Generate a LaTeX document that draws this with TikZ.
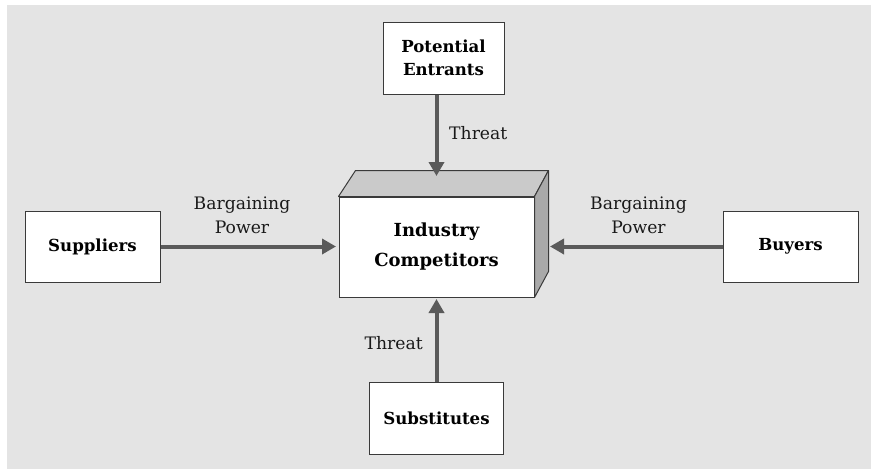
\documentclass[tikz,border=0pt]{standalone}
\usepackage{fontspec}
\setmainfont{DejaVu Serif}
\usetikzlibrary{arrows.meta,calc}
\definecolor{bggray}{HTML}{E4E4E4}
\definecolor{arrgray}{HTML}{5A5A5A}
\definecolor{topgray}{HTML}{CACACA}
\definecolor{sidegray}{HTML}{A9A9A9}
\definecolor{edgegray}{HTML}{3A3A3A}
\tikzset{
  forcebox/.style={draw=edgegray, line width=1pt, fill=white, inner sep=0pt,
    font=\fontsize{16.6}{23}\selectfont\bfseries, align=center},
  forcearrow/.style={draw=arrgray, line width=4pt, -{Triangle[length=14pt,width=15pt]}},
  lbl/.style={font=\fontsize{17.2}{24}\selectfont, align=center, inner sep=0pt, text=black!90},
  face/.style={draw=edgegray, line width=1pt, line join=round}
}
\begin{document}
\begin{tikzpicture}[x=1pt,y=-1pt]
\useasboundingbox (0,0) rectangle (871,469);
\fill[bggray] (7,5) rectangle (871,469);
% central 3D box
\node[forcebox, minimum width=195pt, minimum height=100pt,
  font=\fontsize{18}{30}\selectfont\bfseries] (ic) at (436.5,247) {Industry\\Competitors};
\draw[face, fill=topgray] (ic.north west) -- ($(ic.north west)+(17,-26)$) -- ($(ic.north east)+(14,-26)$) -- (ic.north east) -- cycle;
\draw[face, fill=sidegray] (ic.north east) -- ($(ic.north east)+(14,-26)$) -- ($(ic.south east)+(14,-26)$) -- (ic.south east) -- cycle;
\node[forcebox, minimum width=195pt, minimum height=100pt,
  font=\fontsize{18}{30}\selectfont\bfseries] at (ic.center) {Industry\\Competitors};
% outer boxes
\node[forcebox, minimum width=121pt, minimum height=72pt] (pe) at (443.5,58) {Potential\\Entrants};
\node[forcebox, minimum width=135pt, minimum height=71pt] (sup) at (92.5,246.5) {Suppliers};
\node[forcebox, minimum width=135pt, minimum height=71pt] (buy) at (790.5,246.5) {Buyers};
\node[forcebox, minimum width=134pt, minimum height=72pt] (sub) at (436.5,418) {Substitutes};
% arrow end points
\coordinate (petop) at (pe.south -| ic.center);
\coordinate (toptip) at (436.5,176);
\coordinate (subtop) at (sub.north -| ic.center);
\coordinate (bottip) at (436.5,299);
\coordinate (lefttip) at (336,246.5);
\coordinate (righttip) at (550,246.5);
% arrows
\draw[forcearrow] (petop) -- (toptip);
\draw[forcearrow] (subtop) -- (bottip);
\draw[forcearrow] (sup.east) -- (lefttip);
\draw[forcearrow] (buy.west) -- (righttip);
% labels
\node[lbl, anchor=west] (t1) at (449,133) {Threat};
\node[lbl, anchor=east] (t2) at (423,343) {Threat};
\node[lbl] (bp1) at (242,215) {Bargaining\\Power};
\node[lbl] (bp2) at (638.5,215) {Bargaining\\Power};
\end{tikzpicture}
\end{document}
